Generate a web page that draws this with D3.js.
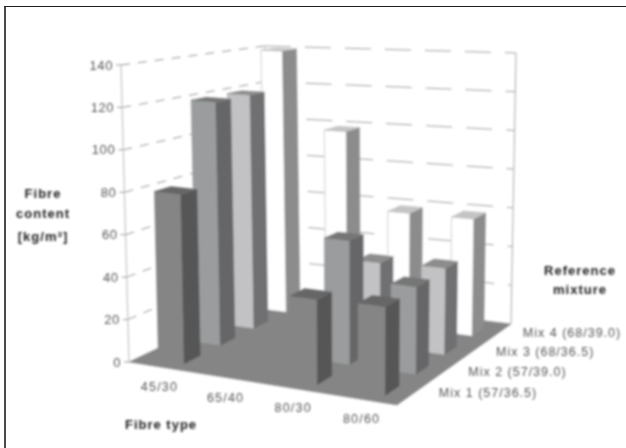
<!DOCTYPE html>
<html><head><meta charset="utf-8">
<script src="https://cdn.jsdelivr.net/npm/d3@7"></script>
<style>html,body{margin:0;padding:0;background:#fff}svg{display:block}text{font-family:"Liberation Sans",Arial,sans-serif}</style>
</head><body><div id="c"></div>
<script>
const categories = ["45/30","65/40","80/30","80/60"];
const mixes = ["Mix 1 (57/36.5)","Mix 2 (57/39.0)","Mix 3 (68/36.5)","Mix 4 (68/39.0)"];
const valueTicks = [0,20,40,60,80,100,120,140];
const mix1Values = [80,0,39,40];
const mix2Values = [120,0,59,41];
const mix3Values = [120,0,41,42];
const mix4Values = [150,99,59,59];
const seriesValues = [mix1Values,mix2Values,mix3Values,mix4Values];
const frontColors = ["#858585","#9a9c9e","#c2c2c4","#ffffff"];
const sideColors = ["#565656","#666668","#707072","#8c8c8c"];
const topColors = ["#666666","#767676","#8c8c8c","#c4c4c4"];

const W=626,H=448;
const svg=d3.select("#c").append("svg").attr("width",W).attr("height",H);
svg.append("defs").append("filter").attr("id","soft").attr("x","-5%").attr("y","-5%").attr("width","110%").attr("height","110%")
  .append("feGaussianBlur").attr("stdDeviation",0.85);
const g=svg.append("g").attr("filter","url(#soft)");

// box corners of the 3D frame [left-front, right-front, left-back, right-back]
const floorC=[[129,362],[397,405],[270,295],[511,324]];
const topC=[[121,65],[399,90],[265,46],[516,53]];
const u=d3.scalePow().exponent(1.03).domain([0,categories.length]).range([0,1]);
const v=d3.scalePow().exponent(0.92).domain([0,mixes.length]).range([0,1]);
const w=d3.scaleLinear().domain([0,140]).range([0,1]).clamp(true);
const lerp=(a,b,t)=>[a[0]+(b[0]-a[0])*t,a[1]+(b[1]-a[1])*t];
function bil(c,a,b){return lerp(lerp(c[0],c[1],a),lerp(c[2],c[3],a),b);}
function P(i,j,val){return lerp(bil(floorC,u(i),v(j)),bil(topC,u(i),v(j)),w(val));}
const line=d3.line();
const poly=(pts,fill,stroke)=>g.append("path").attr("d",line(pts)+"Z").attr("fill",fill).attr("stroke",stroke||fill).attr("stroke-width",0.5);

// walls grid
const gridCol="#8a8a8a";
valueTicks.forEach(t=>{
  if(t>0){
    g.append("path").attr("d",line([P(0,0,t),P(0,4,t)])).attr("fill","none").attr("stroke",gridCol).attr("stroke-width",0.9).attr("stroke-dasharray","9 8");
    g.append("path").attr("d",line([P(0,4,t),P(4,4,t)])).attr("fill","none").attr("stroke",gridCol).attr("stroke-width",0.8).attr("stroke-dasharray","26 14");
  }
});
g.append("path").attr("d",line([P(0,0,0),P(0,0,140)])).attr("stroke","#c4c4c4").attr("stroke-width",1.2).attr("fill","none");
g.append("path").attr("d",line([P(0,4,0),P(0,4,140)])).attr("stroke","#bbb").attr("stroke-width",1).attr("fill","none");
g.append("path").attr("d",line([P(4,4,0),P(4,4,140)])).attr("stroke","#aaa").attr("stroke-width",1).attr("fill","none");
// floor
poly([P(0,0,0),P(4,0,0),P(4,4,0),P(0,4,0)],"#858585");
// ticks
valueTicks.forEach(t=>{
  const p=P(0,0,t);
  g.append("line").attr("x1",p[0]-5).attr("x2",p[0]).attr("y1",p[1]).attr("y2",p[1]).attr("stroke","#999");
  g.append("text").attr("x",p[0]-8).attr("y",p[1]+4.5).attr("text-anchor","end").attr("font-size",13).attr("letter-spacing",0.6).attr("fill","#555").text(t);
});
// bars back to front; bars look narrower further back
const bu1=.7,bv0=.25,bv1=.68;
d3.range(3,-1,-1).forEach(j=>{
  const bu0=.3+.018*j;
  d3.range(0,4).forEach(i=>{
    const val=seriesValues[j][i];
    if(!val)return;
    const f0=P(i+bu0,j+bv0,0),f1=P(i+bu1,j+bv0,0),s1=P(i+bu1,j+bv1,0);
    const t0=P(i+bu0,j+bv0,val),t1=P(i+bu1,j+bv0,val),t2=P(i+bu1,j+bv1,val),t3=P(i+bu0,j+bv1,val);
    poly([f0,f1,t1,t0],frontColors[j]);
    poly([f1,s1,t2,t1],sideColors[j]);
    poly([t0,t1,t2,t3],topColors[j]);
    if(j===3){g.append("path").attr("d",line([f0,t0,t1])).attr("fill","none").attr("stroke","#bbb").attr("stroke-width",.7);}
  });
});
// category & mix labels
categories.forEach((c,i)=>{
  const p=P(i+.5,0,0);
  g.append("text").attr("x",p[0]-1).attr("y",p[1]+24).attr("text-anchor","middle").attr("font-size",12.5).attr("letter-spacing",1.2).attr("fill","#555").text(c);
});
mixes.forEach((m,j)=>{
  const p=P(4,j+.5,0);
  g.append("text").attr("x",p[0]+25).attr("y",p[1]+4).attr("font-size",12.5).attr("letter-spacing",1).attr("fill","#555").text(m);
});
const title=(x,y,t,a)=>g.append("text").attr("x",x).attr("y",y).attr("text-anchor",a||"middle").attr("font-size",13).attr("letter-spacing",1).attr("font-weight","bold").attr("fill","#222").text(t);
title(43,198,"Fibre");
title(43,218,"content");
const kg=title(43,241,"[kg/m");
kg.append("tspan").attr("dy",-4).attr("font-size",8).text("3");
kg.append("tspan").attr("dy",4).text("]");
title(161,429,"Fibre type");
title(580,275,"Reference");
title(580,294,"mixture");
// outer frame
svg.append("line").attr("x1",5).attr("x2",5).attr("y1",6).attr("y2",H).attr("stroke","#4a4a4a").attr("stroke-width",2);
svg.append("line").attr("x1",4).attr("x2",W).attr("y1",6.5).attr("y2",6.5).attr("stroke","#222").attr("stroke-width",1.2);
</script></body></html>
